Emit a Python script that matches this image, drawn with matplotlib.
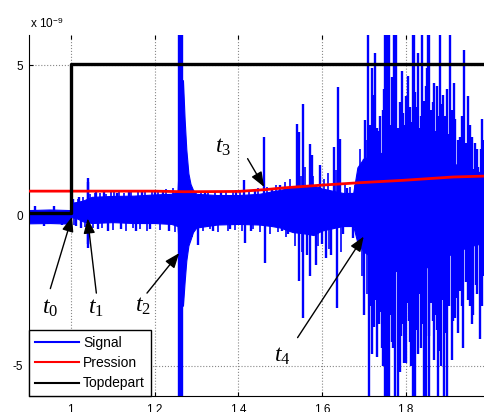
import matplotlib
matplotlib.use("Agg")
import matplotlib.pyplot as plt
from matplotlib.lines import Line2D
import numpy as np

plt.rcParams["font.family"] = ["Liberation Sans", "DejaVu Sans"]
plt.rcParams["mathtext.fontset"] = "custom"
plt.rcParams["mathtext.it"] = "Liberation Serif:italic"
plt.rcParams["mathtext.rm"] = "Liberation Serif"

# ── Data (units of 1e-9) ─────────────────────────────────────────────────────
# Signal: dense core band (upper / lower envelope) + individual spikes
band_x  = [0.900, 0.950, 0.998, 1.000, 1.015, 1.030, 1.050, 1.100, 1.150, 1.200,
           1.240, 1.255, 1.268, 1.272, 1.276, 1.281, 1.286, 1.292, 1.300, 1.350,
           1.400, 1.450, 1.480, 1.500, 1.530, 1.560, 1.580, 1.600, 1.650, 1.675,
           1.685, 1.700, 1.730, 1.760, 1.800, 1.840, 1.880, 1.920, 1.960, 1.990]
band_hi = [0.18, 0.20, 0.18, 0.42, 0.45, 0.50, 0.62, 0.65, 0.66, 0.70,
           0.72, 0.80, 4.50, 3.20, 2.20, 1.40, 1.05, 0.85, 0.72, 0.68,
           0.68, 0.72, 0.80, 0.85, 0.95, 0.95, 1.00, 0.90, 0.75, 0.75,
           1.60, 1.90, 2.00, 2.20, 2.30, 2.20, 2.00, 1.70, 1.50, 1.40]
band_lo = [-0.26, -0.25, -0.27, -0.05, -0.10, -0.20, -0.25, -0.22, -0.25, -0.25,
           -0.28, -0.35, -3.00, -2.20, -1.50, -1.00, -0.80, -0.55, -0.40, -0.30,
           -0.28, -0.30, -0.35, -0.40, -0.55, -0.60, -0.65, -0.50, -0.35, -0.35,
           -0.90, -1.20, -1.50, -1.80, -1.90, -1.80, -1.50, -1.20, -1.00, -0.90]

spike_x = [0.915, 0.935, 0.960, 0.980,
           1.005, 1.012, 1.020, 1.025, 1.040, 1.040, 1.041, 1.042, 1.060, 1.065,
           1.080, 1.090, 1.110, 1.120, 1.140, 1.155, 1.170, 1.190, 1.200, 1.220,
           1.235, 1.258, 1.2605, 1.263, 1.2655, 1.258, 1.2605, 1.263, 1.2655,
           1.305, 1.320, 1.340, 1.360, 1.380, 1.395, 1.415, 1.416, 1.430, 1.440,
           1.462, 1.463, 1.480, 1.500, 1.505, 1.520, 1.540, 1.545, 1.545, 1.556,
           1.556, 1.565, 1.572, 1.572, 1.576, 1.585,
           1.595, 1.600, 1.610, 1.623, 1.628, 1.639, 1.637, 1.643, 1.650, 1.660,
           1.675, 1.688, 1.700, 1.700, 1.702,
           1.711, 1.720, 1.728, 1.740, 1.750, 1.755, 1.760, 1.770, 1.773, 1.778,
           1.787, 1.800, 1.807, 1.817, 1.820, 1.830, 1.840, 1.848, 1.853, 1.857,
           1.866, 1.875, 1.883, 1.890, 1.907, 1.918, 1.930, 1.940, 1.950, 1.962,
           1.974, 1.983,
           1.713, 1.722, 1.733, 1.743, 1.750, 1.755, 1.760, 1.770, 1.776, 1.781,
           1.790, 1.797, 1.802, 1.810, 1.818, 1.822, 1.836, 1.843, 1.850, 1.857,
           1.865, 1.878, 1.882, 1.893, 1.900, 1.913, 1.922, 1.938, 1.962, 1.978,
           1.985,
           1.715, 1.735, 1.745, 1.765, 1.783, 1.793, 1.812, 1.826, 1.835, 1.862,
           1.870, 1.895, 1.902, 1.912, 1.925, 1.945, 1.955, 1.970, 1.988,
           1.717, 1.727, 1.738, 1.765, 1.785, 1.806, 1.815, 1.828, 1.833, 1.860,
           1.872, 1.888, 1.905, 1.930, 1.945, 1.955, 1.968, 1.988,
           1.724, 1.731, 1.748, 1.758, 1.768, 1.775, 1.791, 1.797, 1.810, 1.823,
           1.838, 1.845, 1.851, 1.860, 1.869, 1.879, 1.886, 1.898, 1.910, 1.915,
           1.935, 1.958, 1.966, 1.980,
           1.719, 1.725, 1.736, 1.747, 1.757, 1.767, 1.773, 1.788, 1.795, 1.808,
           1.813, 1.825, 1.831, 1.840, 1.846, 1.855, 1.868, 1.875, 1.885, 1.896,
           1.910, 1.918, 1.926, 1.935, 1.950, 1.958, 1.972, 1.982]
spike_v = [0.30, -0.35, 0.32, -0.33,
           0.55, -0.35, 0.60, -0.40, 1.25, -1.09, 1.10, -0.95, 0.78, -0.45,
           0.80, -0.50, 0.75, -0.45, 0.78, -0.50, 0.80, -0.45, 0.85, 0.82,
           -0.50, 7.0, 7.0, 7.0, 7.0, -7.0, -7.0, -7.0, -7.0,
           -0.97, 0.80, -0.50, 0.82, -0.45, 0.85, 1.18, -0.92, -0.50, 0.85,
           2.60, -1.58, 0.90, 1.00, -0.50, -0.60, 3.05, 2.77, -2.19, 3.70,
           -3.40, -1.30, 2.38, -2.02, 2.00, -1.64,
           1.67, -0.96, -1.40, -1.30, 2.27, 4.26, -3.07, 2.55, -0.60, 0.90,
           -0.76, 1.35, 1.88, -3.30, 3.16,
           6.5, 4.9, 5.4, 3.3, 6.5, 6.5, 6.5, 3.76, 6.5, 6.5,
           3.76, 3.98, 4.64, 6.5, 6.5, 5.4, 6.5, 4.3, 6.5, 6.5,
           3.76, 4.3, 6.5, 4.0, 6.5, 3.2, 2.6, 5.5, 3.98, 1.55,
           1.6, 3.2,
           -6.5, -3.5, -4.7, -4.4, -6.5, -6.5, -6.5, -4.4, -6.5, -6.5,
           -4.0, -4.9, -4.9, -4.2, -6.5, -6.5, -4.4, -6.5, -6.5, -6.5,
           -3.5, -6.5, -4.5, -6.5, -6.5, -3.5, -2.75, -4.4, -3.3, -4.1,
           -1.9,
           3.0, 2.8, 3.5, 3.0, 2.9, 3.4, 3.1, 3.6, 2.9, 3.2,
           2.8, 3.3, 2.7, 3.0, 2.5, 2.4, 3.0, 2.2, 2.5,
           -3.0, -2.8, -3.2, -3.3, -3.0, -2.9, -3.4, -3.0, -2.6, -2.9,
           -3.3, -2.8, -3.0, -2.5, -2.2, -3.0, -2.3, -2.0,
           4.0, 2.9, 4.2, 3.5, 4.6, 3.2, 4.8, 3.0, 3.6, 4.1,
           3.3, 3.8, 4.9, 3.5, 4.4, 3.3, 3.7, 4.2, 3.5, 4.4,
           3.3, 2.6, 2.4, 2.2,
           -4.6, -3.7, -3.6, -5.0, -3.9, -4.2, -3.4, -5.2, -3.6, -3.5,
           -5.0, -3.8, -4.6, -3.6, -5.0, -4.0, -4.8, -3.8, -5.0, -3.9,
           -4.8, -3.4, -3.9, -3.0, -2.8, -3.6, -2.6, -3.0]

# small ripples on the edges of the core band
ripple_x = [1.003, 1.008, 1.016, 1.030, 1.034, 1.047, 1.052, 1.057, 1.070, 1.075,
            1.085, 1.096, 1.100, 1.104, 1.116, 1.128, 1.132, 1.145, 1.148, 1.160,
            1.165, 1.178, 1.182, 1.195, 1.208, 1.212, 1.228, 1.245, 1.248,
            1.290, 1.310, 1.315, 1.328, 1.333, 1.345, 1.352, 1.370, 1.375, 1.388,
            1.392, 1.405, 1.410, 1.425, 1.435, 1.447, 1.452,
            1.470, 1.475, 1.490, 1.495, 1.512, 1.515, 1.525, 1.535, 1.550, 1.552,
            1.560, 1.580, 1.590, 1.605, 1.615, 1.618, 1.633, 1.645, 1.655, 1.668,
            1.680, 1.683, 1.692, 1.695, 1.707, 1.708]
ripple_v = [0.60, -0.30, 0.55, 0.62, -0.38, 0.70, -0.42, 0.74, 0.76, -0.40,
            0.72, 0.80, -0.48, 0.78, 0.82, 0.76, -0.52, 0.80, -0.40, 0.84,
            -0.45, 0.82, -0.50, 0.86, 0.84, -0.48, 0.88, 0.90, -0.55,
            -0.70, 0.80, -0.50, 0.78, -0.45, 0.80, -0.55, 0.78, -0.50, 0.82,
            -0.48, 0.80, -0.50, 0.82, -0.45, 0.90, -0.55,
            0.95, -0.60, 1.00, -0.55, 1.10, -0.70, 1.20, -1.00, 1.30, -1.20,
            1.60, 1.30, -1.00, 1.20, 1.40, -1.10, 1.50, -1.20, 1.00, 0.95,
            1.00, -0.60, 2.20, -2.00, 2.50, -2.60]

pression_x = [0.90, 1.00, 1.20, 1.27, 1.40, 1.465, 1.51, 1.60, 1.69, 1.795, 1.914, 1.99]
pression_y = [0.81, 0.81, 0.81, 0.79, 0.80, 0.86, 0.92, 1.01, 1.09, 1.17, 1.28, 1.31]

topdepart_x = [0.90, 1.00, 1.00, 1.99]
topdepart_y = [0.07, 0.07, 5.05, 5.05]

# annotations: label, text pos, arrow tail, arrow head
marks = [("0", (0.951, -3.07), (0.951, -2.43), (1.003, -0.04)),
         ("1", (1.059, -3.07), (1.061, -2.58), (1.040, -0.10)),
         ("2", (1.173, -3.01), (1.182, -2.58), (1.259, -1.25)),
         ("3", (1.364, 2.27), (1.4225, 1.89), (1.462, 0.95)),
         ("4", (1.505, -4.67), (1.542, -4.06), (1.700, -0.70))]

# ── Figure ───────────────────────────────────────────────────────────────────
fig = plt.figure(figsize=(4.85, 4.12), dpi=100)
ax = fig.add_axes([29/485, 16/412, 456/485, 361/412])

blue, red = "#0000FF", "#FF0000"
ax.fill_between(band_x, band_lo, band_hi, color=blue, lw=0.8, zorder=2)
ax.vlines(spike_x, 0, spike_v, color=blue, lw=1.7, zorder=2)
ax.vlines(ripple_x, 0, ripple_v, color=blue, lw=1.2, zorder=2)
ax.plot(pression_x, pression_y, color=red, lw=2, zorder=3)
ax.plot(topdepart_x, topdepart_y, color="black", lw=2.4, zorder=4)

for sub, txt, tail, head in marks:
    ax.annotate("", xy=head, xytext=tail,
                arrowprops=dict(arrowstyle="-|>,head_length=0.9,head_width=0.35",
                                color="black", lw=1.0, shrinkA=0, shrinkB=0),
                zorder=6)
    ax.text(txt[0], txt[1], r"$\mathit{t}_{\mathit{%s}}$" % sub, fontsize=17,
            ha="center", va="center", zorder=6)

ax.set_xlim(0.9, 1.99)
ax.set_ylim(-6, 6)
ax.set_xticks([1, 1.2, 1.4, 1.6, 1.8])
ax.set_xticklabels(["1", "1.2", "1.4", "1.6", "1.8"])
ax.set_yticks([-5, 0, 5])
ax.set_yticklabels(["-5", "0", "5"])
ax.tick_params(direction="in", length=3, labelsize=8.5, top=True, pad=4)
ax.tick_params(axis="x", pad=6)
ax.grid(True, linestyle=":", color="#888888", lw=0.8, zorder=1)
ax.spines["top"].set_visible(False)
ax.spines["right"].set_visible(False)

fig.text(30/485, 1 - 28/412, r"x 10$^{\mathregular{-9}}$", fontsize=8.5,
         ha="left", va="baseline")

handles = [Line2D([], [], color=blue, lw=1.5),
           Line2D([], [], color=red, lw=1.5),
           Line2D([], [], color="black", lw=1.5)]
leg = ax.legend(handles, ["Signal", "Pression", "Topdepart"], loc="lower left",
                fontsize=10, handlelength=3.2, labelspacing=0.45,
                borderaxespad=0, fancybox=False, framealpha=1,
                edgecolor="black", borderpad=0.4, handletextpad=0.3)
leg.get_frame().set_linewidth(1.0)
leg.set_zorder(7)

fig.savefig("out.png", dpi=100)
